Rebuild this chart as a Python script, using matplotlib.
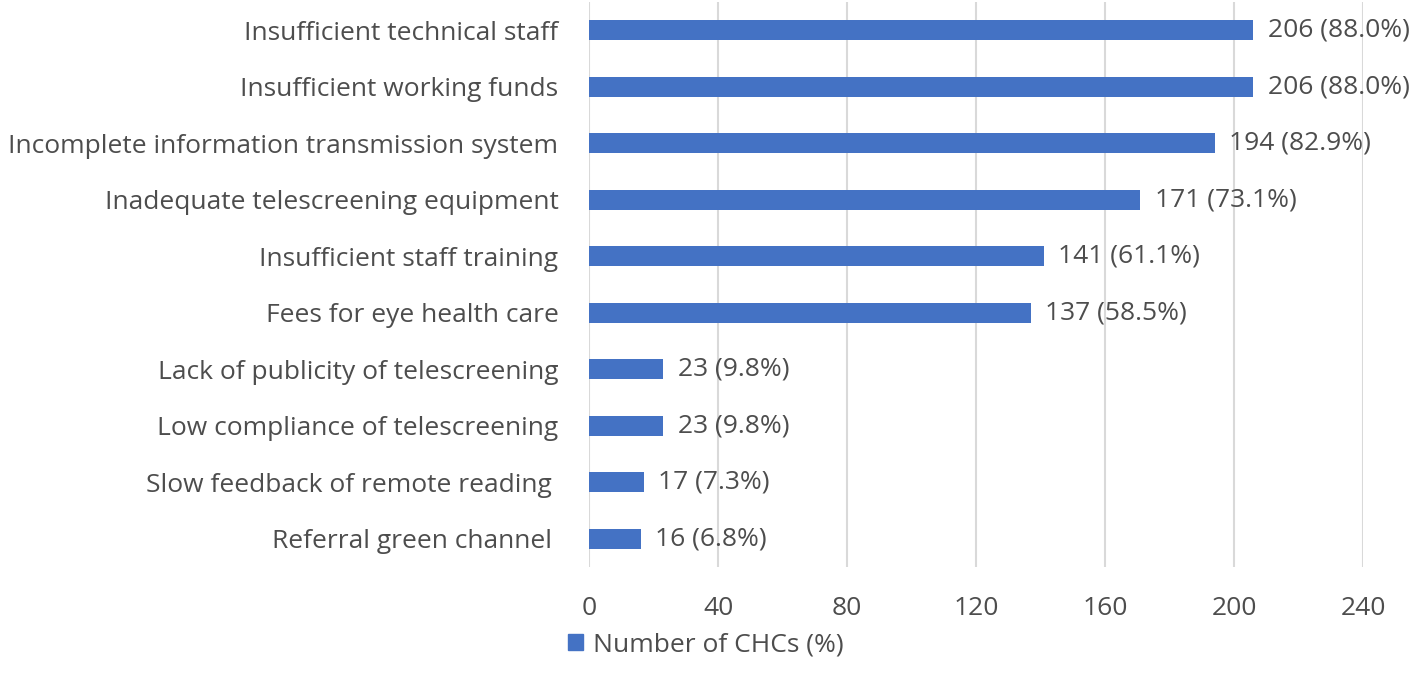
import matplotlib
matplotlib.use("Agg")
import matplotlib.pyplot as plt
from matplotlib.patches import Patch

categories = [
    "Insufficient technical staff",
    "Insufficient working funds",
    "Incomplete information transmission system",
    "Inadequate telescreening equipment",
    "Insufficient staff training",
    "Fees for eye health care",
    "Lack of publicity of telescreening",
    "Low compliance of telescreening",
    "Slow feedback of remote reading ",
    "Referral green channel ",
]
counts = [206, 206, 194, 171, 141, 137, 23, 23, 17, 16]
percents = [88.0, 88.0, 82.9, 73.1, 61.1, 58.5, 9.8, 9.8, 7.3, 6.8]
xticks = [0, 40, 80, 120, 160, 200, 240]
legend_label = "Number of CHCs (%)"

plt.rcParams['font.family'] = ['Open Sans', 'DejaVu Sans']
text_color = "#4D4D4D"
bar_color = "#4472C4"
fs = 19

fig = plt.figure(figsize=(14.16, 6.94), dpi=100)
ax = fig.add_axes([589/1416, 1-567/694, (1363-589)/1416, (567-2)/694])

y = list(range(len(categories)))
ax.barh(y, counts, height=0.36, color=bar_color, zorder=3)
for yi, c, p in zip(y, counts, percents):
    ax.text(c + 4.5, yi, f"{c} ({p:.1f}%)", va="center", ha="left",
            fontsize=fs, color=text_color, clip_on=False)

ax.set_ylim(len(categories) - 0.5, -0.5)
ax.set_xlim(0, 240)
ax.set_yticks(y)
ax.set_yticklabels(categories, fontsize=fs, color=text_color)
ax.set_xticks(xticks)
ax.set_xticklabels([str(t) for t in xticks], fontsize=fs, color=text_color)
ax.tick_params(axis="both", length=0)
ax.tick_params(axis="y", pad=22)
ax.tick_params(axis="x", pad=21)
ax.xaxis.grid(True, color="#D9D9D9", linewidth=1.5, zorder=0)
for s in ax.spines.values():
    s.set_visible(False)

fig.legend(handles=[Patch(color=bar_color)], labels=[legend_label],
           loc="center", bbox_to_anchor=(706/1416, 1-645/694), frameon=False,
           fontsize=fs, handlelength=0.55, handleheight=0.55, handletextpad=0.4,
           labelcolor=text_color)

fig.savefig("out.png", dpi=100)
